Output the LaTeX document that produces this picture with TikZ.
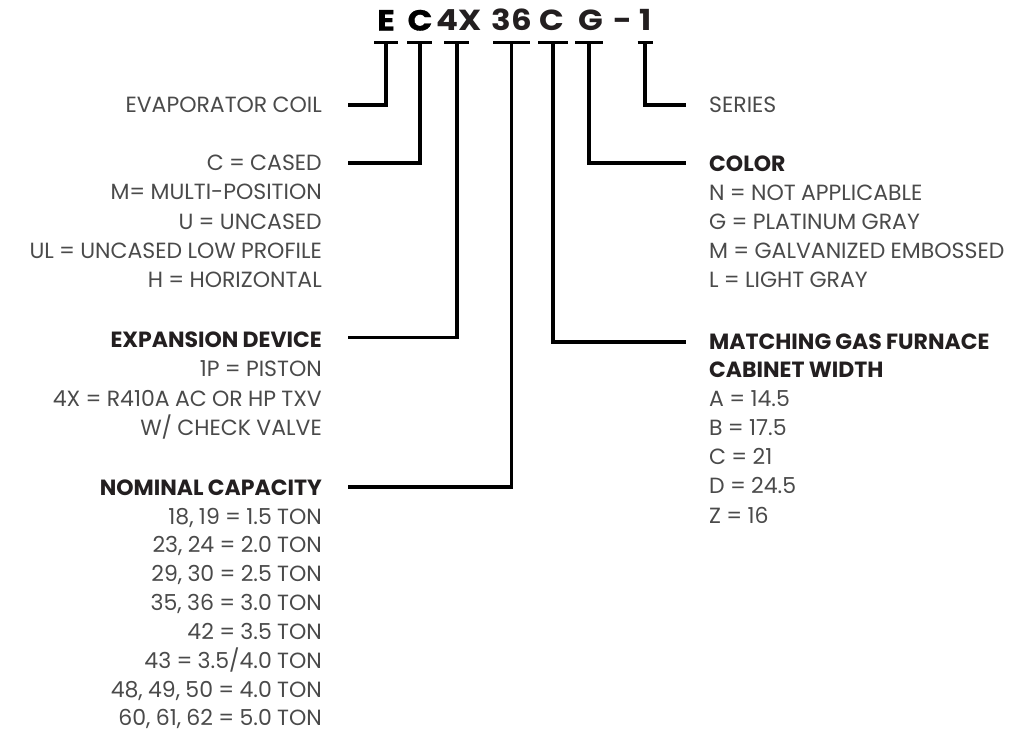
\documentclass[tikz,border=0pt]{standalone}
\usepackage{fontspec}
\usepackage{graphicx}
\setmainfont{Poppins}[WordSpace=0.9]
\newfontfamily\heavyfont{Poppins}[BoldFeatures={FakeBold=1.1}]
\definecolor{txtgray}{HTML}{4A4A4A}
\definecolor{hdblack}{HTML}{231F20}
\newcommand{\wide}[1]{\scalebox{1.12}[1]{#1}}
\begin{document}
\begin{tikzpicture}[x=1pt,y=-1pt,
  lab/.style={font=\fontsize{22}{24}\selectfont, text=txtgray, inner sep=0},
  labL/.style={lab, anchor=base east},
  labR/.style={lab, anchor=base west},
  hdL/.style={labL, font=\fontsize{22}{24}\selectfont\bfseries, text=hdblack},
  hdR/.style={labR, font=\fontsize{22}{24}\selectfont\bfseries, text=hdblack},
  code/.style={font=\fontsize{29}{32}\selectfont\bfseries, text=hdblack, inner sep=0, anchor=base},
  codeK/.style={code, font=\fontsize{29}{32}\selectfont\heavyfont\bfseries, text=black},
  conn/.style={line width=3.2pt, draw=black, line join=miter},
  bar/.style={line width=3.2pt, draw=black}]
\useasboundingbox (0,0) rectangle (1016,737);
% code letters
\node[codeK] (kE) at (386,30.5) {\wide{E}};
\node[codeK] (kC) at (420,30.5) {\wide{C}};
\node[code] (k4X) at (459.5,30.5) {\wide{4X}};
\node[code] (k36) at (512,30.5) {\wide{36}};
\node[code] (kC2) at (552,30.5) {\wide{C}};
\node[code] (kG) at (591,30.5) {\wide{G}};
\node[code] (kD) at (623,30.5) {\wide{-}};
\node[code] (k1) at (645.5,30.5) {\wide{1}};
% bars
\coordinate (tE) at (386,42.5);
\coordinate (tC) at (420,42.5);
\coordinate (t4X) at (457,42.5);
\coordinate (t36) at (511.5,42.5);
\coordinate (tC2) at (553,42.5);
\coordinate (tG) at (589,42.5);
\coordinate (t1) at (645,42.5);
\draw[bar] ([xshift=-12pt]tE) -- ([xshift=12pt]tE);
\draw[bar] ([xshift=-13pt]tC) -- ([xshift=12pt]tC);
\draw[bar] ([xshift=-13pt]t4X) -- ([xshift=12pt]t4X);
\draw[bar] ([xshift=-18.5pt]t36) -- ([xshift=18.5pt]t36);
\draw[bar] ([xshift=-15pt]tC2) -- ([xshift=15pt]tC2);
\draw[bar] ([xshift=-14pt]tG) -- ([xshift=14pt]tG);
\draw[bar] ([xshift=-7.5pt]t1) -- ([xshift=8pt]t1);
% connector ends
\coordinate (eE) at (348,105);
\coordinate (eC) at (348,163);
\coordinate (e4X) at (348,337.5);
\coordinate (e36) at (348,487);
\coordinate (eC2) at (686,342);
\coordinate (eG) at (686,163);
\coordinate (e1) at (686,105);
\draw[conn] (tE) |- (eE);
\draw[conn] (tC) |- (eC);
\draw[conn] (t4X) |- (e4X);
\draw[conn] (t36) |- (e36);
\draw[conn] (tC2) |- (eC2);
\draw[conn] (tG) |- (eG);
\draw[conn] (t1) |- (e1);
% left labels
\node[labL] (l1) at (322,112) {EVAPORATOR COIL};
\node[labL] (l2) at (322,170) {C = CASED};
\node[labL] (l3) at (322,199.5) {M= MULTI-POSITION};
\node[labL] (l4) at (322,229) {U = UNCASED};
\node[labL] (l5) at (322,258.5) {UL = UNCASED LOW PROFILE};
\node[labL] (l6) at (322,287) {H = HORIZONTAL};
\node[hdL] (l7) at (322,347) {EXPANSION DEVICE};
\node[labL] (l8) at (322,376.5) {1P = PISTON};
\node[labL] (l9) at (322,406) {4X = R410A AC OR HP TXV};
\node[labL] (l10) at (322,435) {W/ CHECK VALVE};
\node[hdL] (l11) at (322,495) {NOMINAL CAPACITY};
\node[labL] (l12) at (322,524) {18, 19 = 1.5 TON};
\node[labL] (l13) at (322,552.5) {23, 24 = 2.0 TON};
\node[labL] (l14) at (322,581.5) {29, 30 = 2.5 TON};
\node[labL] (l15) at (322,610) {35, 36 = 3.0 TON};
\node[labL] (l16) at (322,639) {42 = 3.5 TON};
\node[labL] (l17) at (322,668) {43 = 3.5/4.0 TON};
\node[labL] (l18) at (322,697) {48, 49, 50 = 4.0 TON};
\node[labL] (l19) at (322,725.5) {60, 61, 62 = 5.0 TON};
% right labels
\node[labR] (r1) at (709,112.5) {SERIES};
\node[hdR] (r2) at (709,171.5) {COLOR};
\node[labR] (r3) at (709,200) {N = NOT APPLICABLE};
\node[labR] (r4) at (709,229.5) {G = PLATINUM GRAY};
\node[labR] (r5) at (709,258.5) {M = GALVANIZED EMBOSSED};
\node[labR] (r6) at (709,287) {L = LIGHT GRAY};
\node[hdR] (r7) at (709,349) {MATCHING GAS FURNACE};
\node[hdR] (r8) at (709,377.5) {CABINET WIDTH};
\node[labR] (r9) at (709,406.5) {A = 14.5};
\node[labR] (r10) at (709,435) {B = 17.5};
\node[labR] (r11) at (709,464) {C = 21};
\node[labR] (r12) at (709,493.5) {D = 24.5};
\node[labR] (r13) at (709,523) {Z = 16};
\end{tikzpicture}
\end{document}
